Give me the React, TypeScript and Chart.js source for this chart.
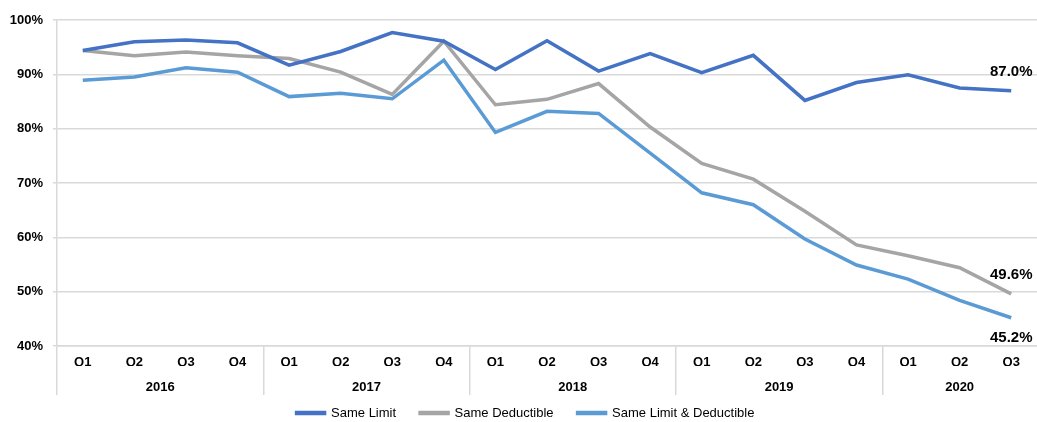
import React, { useEffect, useRef } from 'react';
import { Chart, registerables } from 'chart.js';

Chart.register(...registerables);

const quarters = ['Q1', 'Q2', 'Q3', 'Q4', 'Q1', 'Q2', 'Q3', 'Q4', 'Q1', 'Q2', 'Q3', 'Q4', 'Q1', 'Q2', 'Q3', 'Q4', 'Q1', 'Q2', 'Q3'];
const years = ['2016', '2017', '2018', '2019', '2020'];
const yearCenters = [1.5, 5.5, 9.5, 13.5, 17];
const yTicks = [40, 50, 60, 70, 80, 90, 100];

const sameLimit = [94.4, 96.0, 96.3, 95.8, 91.7, 94.2, 97.7, 96.1, 90.9, 96.2, 90.6, 93.8, 90.3, 93.5, 85.2, 88.5, 89.9, 87.5, 87.0];
const sameDeductible = [94.4, 93.4, 94.1, 93.4, 92.9, 90.4, 86.3, 96.1, 84.4, 85.4, 88.3, 80.3, 73.6, 70.7, 64.8, 58.6, 56.6, 54.4, 49.6];
const sameLimitDeductible = [88.9, 89.5, 91.2, 90.4, 85.9, 86.5, 85.5, 92.6, 79.3, 83.2, 82.8, 75.5, 68.2, 66.0, 59.7, 54.9, 52.3, 48.4, 45.2];

const seriesNames = ['Same Limit', 'Same Deductible', 'Same Limit & Deductible'];
const seriesColors = ['#4472C4', '#A5A5A5', '#5B9BD5'];
const labelBelow = [false, false, true];

const FONT = 'Arial, "Liberation Sans", sans-serif';
const GRID = '#d9d9d9';

const endLabelPlugin = {
  id: 'endLabels',
  afterDatasetsDraw(chart: any) {
    const ctx = chart.ctx;
    ctx.save();
    ctx.font = `bold 15px ${FONT}`;
    ctx.fillStyle = '#000';
    ctx.textAlign = 'center';
    ctx.textBaseline = 'middle';
    chart.data.datasets.forEach((ds: any, i: number) => {
      const meta = chart.getDatasetMeta(i);
      const pt = meta.data[meta.data.length - 1];
      const v = ds.data[ds.data.length - 1];
      const off = labelBelow[i] ? 20 : -19;
      ctx.fillText(v.toFixed(1) + '%', pt.x, pt.y + off);
    });
    ctx.restore();
  },
};

const legendFitPlugin = {
  id: 'legendFit',
  beforeInit(chart: any) {
    const legend = chart.legend;
    if (!legend) return;
    const origFit = legend.fit;
    legend.fit = function () {
      origFit.call(this);
      this.height = 26;
    };
    const origDraw = legend.draw;
    legend.draw = function () {
      const saved = { top: this.top, left: this.left, right: this.right };
      this.top = saved.top - 13.5;
      this.left = saved.left + 7;
      this.right = saved.right + 7;
      origDraw.call(this);
      this.top = saved.top;
      this.left = saved.left;
      this.right = saved.right;
    };
  },
};

export default function App() {
  const ref = useRef<HTMLCanvasElement>(null);
  useEffect(() => {
    document.body.style.margin = '0';
    const canvas = ref.current!;
    const chart = new Chart(canvas, {
      type: 'line',
      data: {
        labels: quarters,
        datasets: [sameLimit, sameDeductible, sameLimitDeductible].map((d, i) => ({
          label: seriesNames[i],
          data: d,
          borderColor: seriesColors[i],
          backgroundColor: seriesColors[i],
          borderWidth: 3.5,
          pointRadius: 0,
          pointHoverRadius: 0,
          tension: 0,
          fill: false,
        })),
      },
      options: {
        responsive: false,
        animation: false,
        layout: { padding: { top: 20, right: 0, left: 0, bottom: 0 } },
        plugins: {
          tooltip: { enabled: false },
          legend: {
            position: 'bottom',
            labels: {
              boxWidth: 28,
              boxHeight: 1,
              padding: 24,
              color: '#000',
              font: { size: 13, family: FONT },
            },
          },
        },
        scales: {
          x: {
            type: 'category',
            offset: true,
            weight: 0,
            grid: {
              offset: true,
              drawOnChartArea: false,
              drawTicks: true,
              tickLength: 49,
              lineWidth: 1.5,
              color: (c: any) => (c.index !== undefined && c.index % 4 === 0 ? GRID : 'rgba(0,0,0,0)'),
              tickColor: (c: any) => (c.index !== undefined && c.index % 4 === 0 ? GRID : 'rgba(0,0,0,0)'),
            },
            border: { display: true, color: GRID, width: 1.5 },
            ticks: {
              padding: -40,
              color: '#000',
              font: { size: 13, weight: 'bold', family: FONT },
              maxRotation: 0,
              autoSkip: false,
            },
            afterFit: (s: any) => {
              s.height = 20;
            },
          },
          x2: {
            type: 'linear',
            position: 'bottom',
            weight: 1,
            min: -0.5,
            max: quarters.length - 0.5,
            grid: { display: false, drawTicks: false },
            border: { display: false },
            afterBuildTicks: (s: any) => {
              s.ticks = yearCenters.map((v) => ({ value: v }));
            },
            ticks: {
              padding: 14,
              autoSkip: false,
              maxRotation: 0,
              color: '#000',
              font: { size: 13, weight: 'bold', family: FONT },
              callback: (v: any) => years[yearCenters.indexOf(Number(v))] ?? '',
            },
            afterFit: (s: any) => {
              s.height = 30;
            },
          },
          y: {
            min: 40,
            max: 100,
            afterBuildTicks: (s: any) => {
              s.ticks = yTicks.map((v) => ({ value: v }));
            },
            grid: { color: GRID, lineWidth: 1.5, tickLength: 4 },
            border: { display: true, color: GRID, width: 1.5 },
            ticks: {
              padding: 10,
              color: '#000',
              font: { size: 13, weight: 'bold', family: FONT },
              callback: (v: any) => v + '%',
            },
            afterFit: (s: any) => {
              s.width = 57;
            },
          },
        },
      },
      plugins: [endLabelPlugin, legendFitPlugin],
    } as any);
    return () => chart.destroy();
  }, []);
  return (
    <div style={{ width: 1037, height: 422 }}>
      <canvas ref={ref} width={1037} height={422} style={{ display: 'block' }} />
    </div>
  );
}
